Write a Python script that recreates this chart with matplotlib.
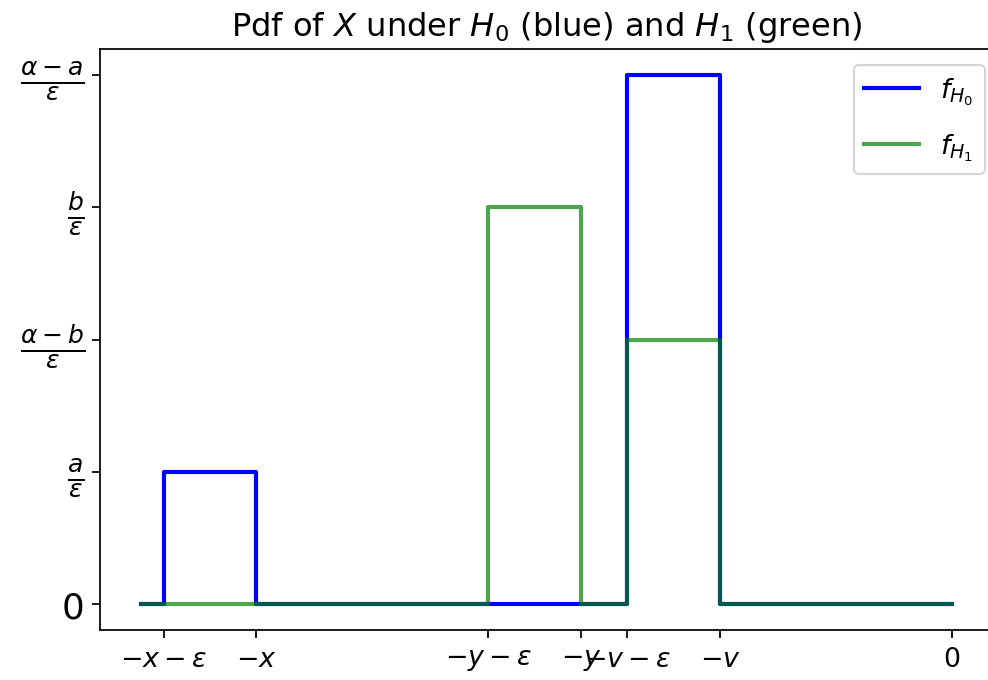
import matplotlib
matplotlib.use("Agg")
import matplotlib.pyplot as plt

# Data (epsilon = 1 unit)
h0_x = [-8.75, -8.5, -8.5, -7.5, -7.5, -3.5, -3.5, -2.5, -2.5, 0.0]
h0_y = [0, 0, 1, 1, 0, 0, 4, 4, 0, 0]
h1_x = [-8.75, -5.0, -5.0, -4.0, -4.0, -3.5, -3.5, -2.5, -2.5, 0.0]
h1_y = [0, 0, 3, 3, 0, 0, 2, 2, 0, 0]

xtick_pos = [-8.5, -7.5, -5.0, -4.0, -3.5, -2.5, 0.0]
xtick_labels = [r'$-x-\varepsilon$', r'$-x$', r'$-y-\varepsilon$', r'$-y$',
                r'$-v-\varepsilon$', r'$-v$', '0']
ytick_pos = [0, 1, 2, 3, 4]
ytick_labels = ['0', r'$\frac{a}{\varepsilon}$', r'$\frac{\alpha-b}{\varepsilon}$',
                r'$\frac{b}{\varepsilon}$', r'$\frac{\alpha-a}{\varepsilon}$']

dpi = 156.25
fig = plt.figure(figsize=(988 / dpi, 681 / dpi), dpi=dpi)
ax = fig.add_axes([0.1012, 0.0727, 0.9035, 0.8546])

ax.plot(h0_x, h0_y, color='blue', lw=1.9, label=r'$f_{H_0}$')
ax.plot(h1_x, h1_y, color='green', lw=1.9, alpha=0.7, label=r'$f_{H_1}$')

ax.set_xticks(xtick_pos)
ax.set_xticklabels(xtick_labels, fontsize=12.4)
ax.set_yticks(ytick_pos)
ax.set_yticklabels(ytick_labels, fontsize=16.5)
ax.set_title(r'Pdf of $X$ under $H_0$ (blue) and $H_1$ (green)', fontsize=14.8)
ax.legend(loc='upper right', labelspacing=0.9, fontsize=12.5,
          bbox_to_anchor=(0.991, 0.972), borderaxespad=0)

fig.savefig('out.png', dpi=dpi)
